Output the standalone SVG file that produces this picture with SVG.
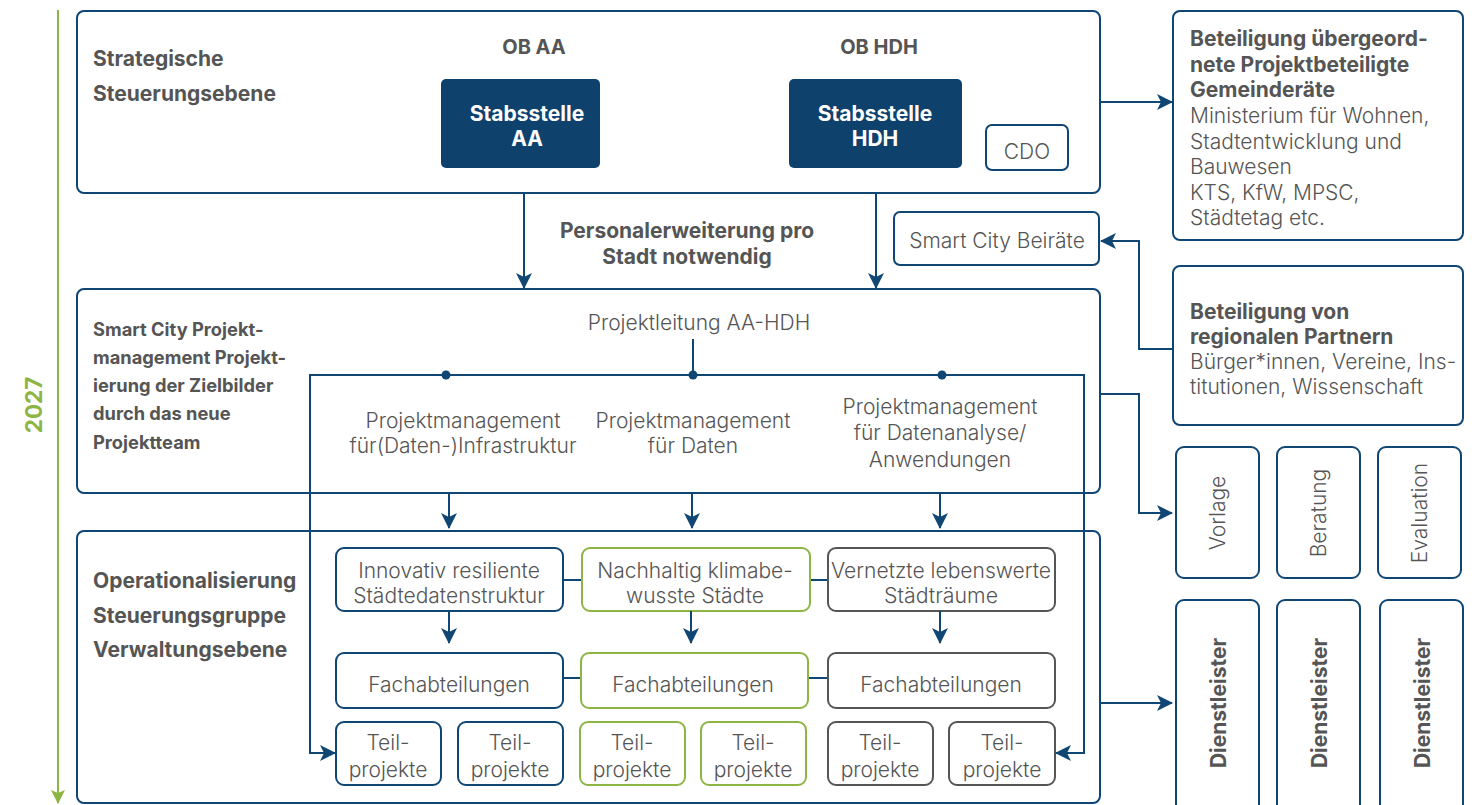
<svg xmlns="http://www.w3.org/2000/svg" width="1484" height="805" viewBox="0 0 1484 805">
<defs>
<style>
.frame{fill:#fff;stroke:#0f4674;stroke-width:2}
.blue{fill:#fff;stroke:#0f4674;stroke-width:2}
.green{fill:#fff;stroke:#8db543;stroke-width:2}
.gray{fill:#fff;stroke:#555;stroke-width:2}
.dark{fill:#0f416d;stroke:none}
.conn{fill:none;stroke:#0f4674;stroke-width:2}
.hd{font-family:Inter,"Liberation Sans",sans-serif;font-weight:700;fill:#555;font-size:21px}
.hs{font-family:Inter,"Liberation Sans",sans-serif;font-weight:700;fill:#555;font-size:18.3px}
.tx{font-family:Inter,"Liberation Sans",sans-serif;font-weight:300;fill:#555;font-size:21px}
.wt{font-family:Inter,"Liberation Sans",sans-serif;font-weight:700;fill:#fff;font-size:21px}
.mid{text-anchor:middle}
</style>
<marker id="ahl" viewBox="0 0 16 16" refX="15" refY="8" markerWidth="16" markerHeight="16" markerUnits="userSpaceOnUse" orient="auto"><path d="M0,0 L16,8 L0,16 L4,8 z" fill="#0f4674"/></marker>
<marker id="ahg" viewBox="0 0 14 14" refX="13" refY="7" markerWidth="14" markerHeight="14" markerUnits="userSpaceOnUse" orient="auto"><path d="M0,0 L14,7 L0,14 L3,7 z" fill="#8db543"/></marker>
</defs>

<g id="timeline">
<line x1="58" y1="10" x2="58" y2="803" stroke="#8db543" stroke-width="2" marker-end="url(#ahg)"/>
<text class="hd" x="0" y="0" transform="translate(42,405) rotate(-90)" text-anchor="middle" style="fill:#8db543;font-size:22.5px">2027</text>
</g>

<g id="strategic">
<rect class="frame" x="77" y="11" width="1023" height="182" rx="7"/>
<text class="hd" x="93" y="66">Strategische</text>
<text class="hd" x="93" y="101">Steuerungsebene</text>
<text class="hd mid" x="534" y="54" style="font-size:20px">OB AA</text>
<text class="hd mid" x="879" y="54" style="font-size:20px">OB HDH</text>
</g>
<g id="stabsstelle-aa">
<rect class="dark" x="441" y="79" width="159" height="89" rx="5"/>
<text class="wt mid" x="527" y="121">Stabsstelle</text>
<text class="wt mid" x="527" y="146">AA</text>
</g>
<g id="stabsstelle-hdh">
<rect class="dark" x="789" y="79" width="173" height="89" rx="5"/>
<text class="wt mid" x="875" y="121">Stabsstelle</text>
<text class="wt mid" x="875" y="146">HDH</text>
</g>
<g id="cdo">
<rect class="blue" x="986" y="125" width="82" height="45" rx="6"/>
<text class="tx mid" x="1027" y="159">CDO</text>
</g>
<g id="personal-label">
<text class="hd mid" x="687" y="238">Personalerweiterung pro</text>
<text class="hd mid" x="687" y="264">Stadt notwendig</text>
</g>
<g id="beiraete">
<rect class="blue" x="894" y="212" width="205" height="53" rx="6"/>
<text class="tx mid" x="997" y="248">Smart City Beiräte</text>
</g>

<g id="projektmanagement">
<rect class="frame" x="77" y="289" width="1023" height="204" rx="7"/>
<text class="hs" x="93" y="336">Smart City Projekt-</text>
<text class="hs" x="93" y="364">management Projekt-</text>
<text class="hs" x="93" y="392">ierung der Zielbilder</text>
<text class="hs" x="93" y="420">durch das neue</text>
<text class="hs" x="93" y="449">Projektteam</text>
<text class="tx mid" x="699" y="330">Projektleitung AA-HDH</text>
<text class="tx mid" x="463" y="428">Projektmanagement</text>
<text class="tx mid" x="463" y="453">für(Daten-)Infrastruktur</text>
<text class="tx mid" x="693" y="428">Projektmanagement</text>
<text class="tx mid" x="693" y="453">für Daten</text>
<text class="tx mid" x="940" y="414">Projektmanagement</text>
<text class="tx mid" x="940" y="440">für Datenanalyse/</text>
<text class="tx mid" x="940" y="467">Anwendungen</text>
</g>

<g id="operational">
<rect class="frame" x="77" y="531" width="1023" height="272" rx="7"/>
<text class="hd" x="93" y="588">Operationalisierung</text>
<text class="hd" x="93" y="623">Steuerungsgruppe</text>
<text class="hd" x="93" y="657">Verwaltungsebene</text>
</g>

<g id="row-links">
<line class="conn" x1="563" y1="580" x2="582" y2="580"/>
<line class="conn" x1="810" y1="580" x2="828" y2="580"/>
<line class="conn" x1="563" y1="678" x2="581" y2="678"/>
<line class="conn" x1="808" y1="678" x2="828" y2="678"/>
</g>

<g id="innovativ">
<rect class="blue" x="336" y="548" width="227" height="63" rx="8"/>
<text class="tx mid" x="449" y="578">Innovativ resiliente</text>
<text class="tx mid" x="449" y="603">Städtedatenstruktur</text>
</g>
<g id="nachhaltig">
<rect class="green" x="582" y="548" width="228" height="63" rx="8"/>
<text class="tx mid" x="695" y="578">Nachhaltig klimabe-</text>
<text class="tx mid" x="695" y="603">wusste Städte</text>
</g>
<g id="vernetzte">
<rect class="gray" x="828" y="548" width="227" height="63" rx="8"/>
<text class="tx mid" x="941" y="578" textLength="220" lengthAdjust="spacingAndGlyphs">Vernetzte lebenswerte</text>
<text class="tx mid" x="941" y="603" textLength="114" lengthAdjust="spacingAndGlyphs">Städträume</text>
</g>

<g id="fach-blue">
<rect class="blue" x="336" y="653" width="227" height="55" rx="8"/>
<text class="tx mid" x="449" y="692">Fachabteilungen</text>
</g>
<g id="fach-green">
<rect class="green" x="581" y="653" width="227" height="55" rx="8"/>
<text class="tx mid" x="693" y="692">Fachabteilungen</text>
</g>
<g id="fach-gray">
<rect class="gray" x="828" y="653" width="227" height="55" rx="8"/>
<text class="tx mid" x="941" y="692">Fachabteilungen</text>
</g>

<g id="teil-1"><rect class="blue" x="336" y="722" width="105" height="63" rx="8"/><text class="tx mid" x="388" y="750">Teil-</text><text class="tx mid" x="388" y="777">projekte</text></g>
<g id="teil-2"><rect class="blue" x="458" y="722" width="105" height="63" rx="8"/><text class="tx mid" x="510" y="750">Teil-</text><text class="tx mid" x="510" y="777">projekte</text></g>
<g id="teil-3"><rect class="green" x="580" y="722" width="105" height="63" rx="8"/><text class="tx mid" x="632" y="750">Teil-</text><text class="tx mid" x="632" y="777">projekte</text></g>
<g id="teil-4"><rect class="green" x="701" y="722" width="105" height="63" rx="8"/><text class="tx mid" x="753" y="750">Teil-</text><text class="tx mid" x="753" y="777">projekte</text></g>
<g id="teil-5"><rect class="gray" x="828" y="722" width="105" height="63" rx="8"/><text class="tx mid" x="880" y="750">Teil-</text><text class="tx mid" x="880" y="777">projekte</text></g>
<g id="teil-6"><rect class="gray" x="949" y="722" width="106" height="63" rx="8"/><text class="tx mid" x="1002" y="750">Teil-</text><text class="tx mid" x="1002" y="777">projekte</text></g>

<g id="beteiligung-uebergeordnet">
<rect class="blue" x="1173" y="11" width="290" height="229" rx="7"/>
<text class="hd" x="1190" y="46">Beteiligung übergeord-</text>
<text class="hd" x="1190" y="72">nete Projektbeteiligte</text>
<text class="hd" x="1190" y="97">Gemeinderäte</text>
<text class="tx" x="1190" y="123">Ministerium für Wohnen,</text>
<text class="tx" x="1190" y="149">Stadtentwicklung und</text>
<text class="tx" x="1190" y="174">Bauwesen</text>
<text class="tx" x="1190" y="200">KTS, KfW, MPSC,</text>
<text class="tx" x="1190" y="225">Städtetag etc.</text>
</g>
<g id="beteiligung-regional">
<rect class="blue" x="1173" y="266" width="290" height="159" rx="7"/>
<text class="hd" x="1190" y="319">Beteiligung von</text>
<text class="hd" x="1190" y="344">regionalen Partnern</text>
<text class="tx" x="1190" y="369">Bürger*innen, Vereine, Ins-</text>
<text class="tx" x="1190" y="394">titutionen, Wissenschaft</text>
</g>

<g id="vorlage"><rect class="blue" x="1176" y="447" width="83" height="131" rx="8"/><text class="tx mid" transform="translate(1225,513) rotate(-90)" x="0" y="0">Vorlage</text></g>
<g id="beratung"><rect class="blue" x="1277" y="447" width="83" height="131" rx="8"/><text class="tx mid" transform="translate(1326,513) rotate(-90)" x="0" y="0">Beratung</text></g>
<g id="evaluation"><rect class="blue" x="1378" y="447" width="83" height="131" rx="8"/><text class="tx mid" transform="translate(1427,513) rotate(-90)" x="0" y="0">Evaluation</text></g>

<g id="dienstleister-1"><rect class="blue" x="1176" y="600" width="83" height="215" rx="8"/><text class="hd mid" transform="translate(1226,703) rotate(-90)" x="0" y="0">Dienstleister</text></g>
<g id="dienstleister-2"><rect class="blue" x="1277" y="600" width="83" height="215" rx="8"/><text class="hd mid" transform="translate(1327,703) rotate(-90)" x="0" y="0">Dienstleister</text></g>
<g id="dienstleister-3"><rect class="blue" x="1380" y="600" width="83" height="215" rx="8"/><text class="hd mid" transform="translate(1430,703) rotate(-90)" x="0" y="0">Dienstleister</text></g>

<g id="connectors">
<line class="conn" x1="524" y1="193" x2="524" y2="288" marker-end="url(#ahl)"/>
<line class="conn" x1="876" y1="193" x2="876" y2="288" marker-end="url(#ahl)"/>
<line class="conn" x1="693" y1="339" x2="693" y2="375"/>
<polyline class="conn" points="333,753 310,753 310,375 1084,375 1084,753 1057,753"/>
<line class="conn" x1="320" y1="753" x2="335" y2="753" marker-end="url(#ahl)"/>
<line class="conn" x1="1070" y1="753" x2="1056" y2="753" marker-end="url(#ahl)"/>
<circle cx="446" cy="375" r="4.5" fill="#0f4674"/>
<circle cx="693" cy="375" r="4.5" fill="#0f4674"/>
<circle cx="942" cy="375" r="4.5" fill="#0f4674"/>
<line class="conn" x1="449" y1="493" x2="449" y2="528" marker-end="url(#ahl)"/>
<line class="conn" x1="692" y1="493" x2="692" y2="528" marker-end="url(#ahl)"/>
<line class="conn" x1="940" y1="493" x2="940" y2="528" marker-end="url(#ahl)"/>
<line class="conn" x1="449" y1="611" x2="449" y2="643" marker-end="url(#ahl)"/>
<line class="conn" x1="691" y1="611" x2="691" y2="643" marker-end="url(#ahl)"/>
<line class="conn" x1="940" y1="611" x2="940" y2="643" marker-end="url(#ahl)"/>
<line class="conn" x1="1100" y1="102" x2="1172" y2="102" marker-end="url(#ahl)"/>
<polyline class="conn" points="1173,349 1139,349 1139,241 1101,241" marker-end="url(#ahl)"/>
<polyline class="conn" points="1100,394 1139,394 1139,513 1172,513" marker-end="url(#ahl)"/>
<line class="conn" x1="1100" y1="703" x2="1172" y2="703" marker-end="url(#ahl)"/>
</g>
</svg>
